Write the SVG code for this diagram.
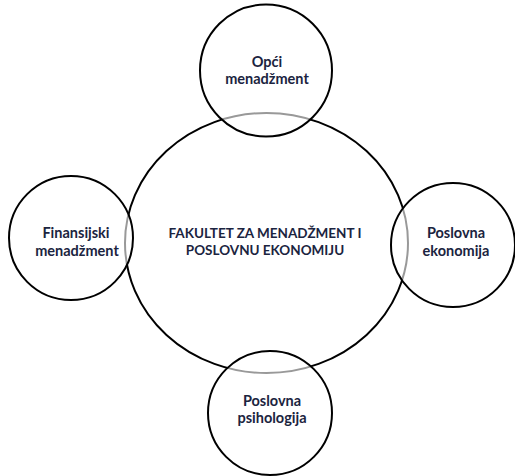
<svg xmlns="http://www.w3.org/2000/svg" width="515" height="476" viewBox="0 0 515 476">
<style>
.big{fill:#fff;stroke:#000;stroke-width:2}
.sat{fill:#fff;fill-opacity:0.6;stroke:#000;stroke-width:2}
.lbl{font-family:Lato,"Open Sans","Liberation Sans",sans-serif;font-weight:bold;font-size:14.5px;fill:#1b2440;text-anchor:middle}
.main{font-size:13.5px}
</style>
<rect width="515" height="476" fill="#fff"/>
<g id="fakultet">
<ellipse class="big" cx="266.5" cy="243" rx="141.5" ry="130"/>
<text class="lbl main" x="265" y="238">FAKULTET ZA MENADŽMENT I</text>
<text class="lbl main" x="265" y="255">POSLOVNU EKONOMIJU</text>
</g>
<g id="opci-menadzment">
<circle class="sat" cx="266" cy="70.5" r="66"/>
<text class="lbl" x="267" y="67">Opći</text>
<text class="lbl" x="267" y="84">menadžment</text>
</g>
<g id="finansijski-menadzment">
<circle class="sat" cx="71" cy="238" r="62"/>
<text class="lbl" x="76" y="238">Finansijski</text>
<text class="lbl" x="77" y="256">menadžment</text>
</g>
<g id="poslovna-ekonomija">
<circle class="sat" cx="453" cy="245" r="62"/>
<text class="lbl" x="456" y="238">Poslovna</text>
<text class="lbl" x="456" y="256">ekonomija</text>
</g>
<g id="poslovna-psihologija">
<circle class="sat" cx="270" cy="413" r="62"/>
<text class="lbl" x="272" y="406">Poslovna</text>
<text class="lbl" x="272" y="423">psihologija</text>
</g>
</svg>
